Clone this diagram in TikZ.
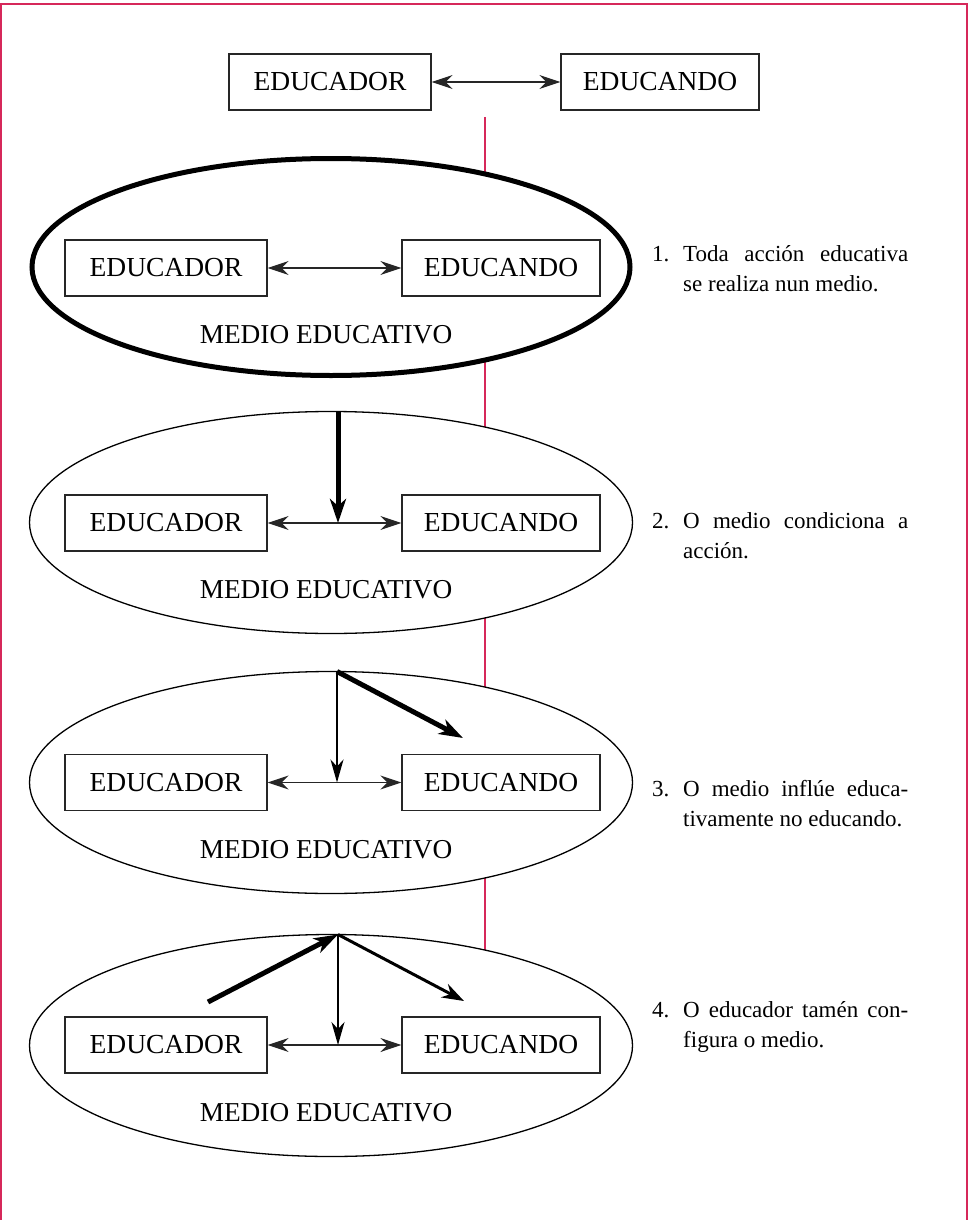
\documentclass[tikz,border=0pt]{standalone}
\usepackage{fontspec}
\setmainfont{Liberation Serif}
\usetikzlibrary{arrows.meta,shapes.geometric}
\definecolor{pinkline}{RGB}{214,40,90}
\begin{document}
\begin{tikzpicture}[x=1pt,y=-1pt,
  box/.style={draw=black!85,line width=1.2pt,minimum height=56pt,inner sep=0pt,font=\fontsize{27.5}{30}\selectfont},
  medio/.style={draw=black,line width=1.3pt,fill=white,ellipse,inner sep=0pt,minimum width=603pt,minimum height=222pt},
  mediotxt/.style={anchor=base,inner sep=0pt,font=\fontsize{27.3}{30}\selectfont},
  lbl/.style={anchor=base west,inner sep=0pt,font=\fontsize{23}{30}\selectfont},
  desc/.style={anchor=base west,inner sep=0pt,text width=225pt,align=justify,font=\fontsize{23}{30}\selectfont},
  dbl/.style={line width=1.3pt,draw=black!85,{Stealth[length=21pt,width=14pt,inset=7pt]}-{Stealth[length=21pt,width=14pt,inset=7pt]}},
  thinarr/.style={line width=1.8pt,-{Stealth[length=23pt,width=13pt,inset=7pt]}},
  midarr/.style={line width=3pt,-{Stealth[length=22pt,width=15pt,inset=7pt]}},
  thickarr/.style={line width=5pt,-{Stealth[length=24pt,width=16pt,inset=7pt]}},
  frame/.style={draw=pinkline,line width=1.8pt},
  rule/.style={draw=pinkline,line width=1.5pt}
]
\useasboundingbox (0,0) rectangle (969,1220);
% page frame and centre rule
\draw[frame] (1,1220) -- (1,4) -- (967,4) -- (967,1220);
\coordinate (ruletop) at (485,117);
\coordinate (rulebot) at (485,1000);
\draw[rule] (ruletop) -- (rulebot);

% top row
\node[box,minimum width=202pt] (r0a) at (330,82) {EDUCADOR};
\node[box,minimum width=198pt] (r0b) at (660,82) {EDUCANDO};
\draw[dbl] (r0a.east) -- (r0b.west);

% ellipse 1
\node[medio,line width=5pt,minimum width=598pt,minimum height=217pt] (m1) at (331,267) {};
\node[box,minimum width=202pt] (r1a) at (166,268) {EDUCADOR};
\node[box,minimum width=198pt] (r1b) at (501,268) {EDUCANDO};
\draw[dbl] (r1a.east) -- (r1b.west);
\node[mediotxt] (t1) at (326,343) {MEDIO EDUCATIVO};
\node[lbl] (n1) at (652,261) {1.};
\node[desc] (d1) at (683,261) {Toda acción educativa\linebreak se realiza nun medio.};

% ellipse 2
\node[medio] (m2) at (331,522.5) {};
\node[box,minimum width=202pt] (r2a) at (166,523) {EDUCADOR};
\node[box,minimum width=198pt] (r2b) at (501,523) {EDUCANDO};
\draw[dbl] (r2a.east) -- (r2b.west);
\node[mediotxt] (t2) at (326,598) {MEDIO EDUCATIVO};
\coordinate (apex2) at (338,411.5);
\draw[thickarr] (apex2) -- (apex2 |- r2a.east);
\node[lbl] (n2) at (652,528) {2.};
\node[desc] (d2) at (683,528) {O medio condiciona a\linebreak acción.};

% ellipse 3
\node[medio] (m3) at (331,782.5) {};
\node[box,minimum width=202pt] (r3a) at (166,782.5) {EDUCADOR};
\node[box,minimum width=198pt] (r3b) at (501,782.5) {EDUCANDO};
\draw[dbl] (r3a.east) -- (r3b.west);
\node[mediotxt] (t3) at (326,858) {MEDIO EDUCATIVO};
\coordinate (apex3) at (337,671.5);
\coordinate (aim3) at (463,738);
\draw[thinarr] (apex3) -- (apex3 |- r3a.east);
\draw[thickarr] (apex3) -- (aim3);
\node[lbl] (n3) at (652,796) {3.};
\node[desc] (d3) at (683,796) {O medio inflúe educa-\linebreak tivamente no educando.};

% ellipse 4
\node[medio] (m4) at (331,1045.5) {};
\node[box,minimum width=202pt] (r4a) at (166,1045) {EDUCADOR};
\node[box,minimum width=198pt] (r4b) at (501,1045) {EDUCANDO};
\draw[dbl] (r4a.east) -- (r4b.west);
\node[mediotxt] (t4) at (326,1121) {MEDIO EDUCATIVO};
\coordinate (apex4) at (338,934.5);
\coordinate (from4) at (208,1002);
\coordinate (aim4) at (464,1001);
\draw[thickarr] (from4) -- (apex4);
\draw[thinarr] (apex4) -- (apex4 |- r4a.east);
\draw[midarr] (apex4) -- (aim4);
\node[lbl] (n4) at (652,1017) {4.};
\node[desc] (d4) at (683,1017) {O educador tamén con-\linebreak figura o medio.};
\end{tikzpicture}
\end{document}
